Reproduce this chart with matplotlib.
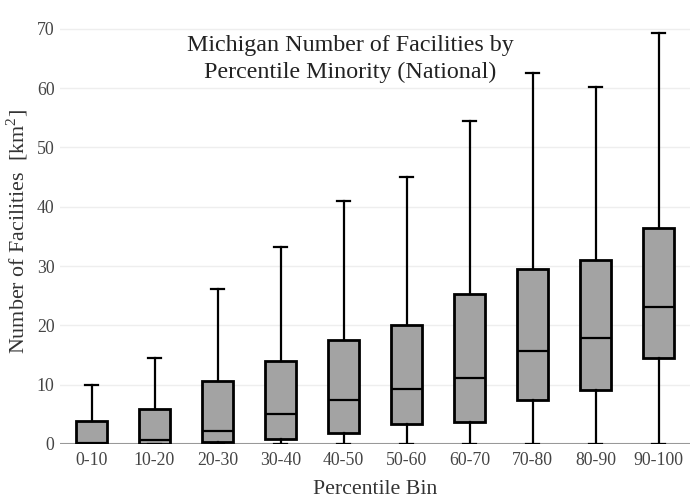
import matplotlib
matplotlib.use("Agg")
import matplotlib.pyplot as plt

plt.rcParams["font.family"] = ["Liberation Serif", "DejaVu Serif"]
plt.rcParams["mathtext.fontset"] = "custom"
plt.rcParams["mathtext.rm"] = "Liberation Serif"

# percentile bins and box statistics
bins = ["0-10", "10-20", "20-30", "30-40", "40-50",
        "50-60", "60-70", "70-80", "80-90", "90-100"]
lower_fence = [0, 0, 0, 0, 0, 0, 0, 0, 0, 0]
q1 = [0.05, 0.05, 0.3, 0.85, 1.85, 3.4, 3.7, 7.35, 9.05, 14.45]
median = [0.25, 0.6, 2.25, 5.05, 7.4, 9.2, 11.1, 15.7, 17.8, 23.1]
q3 = [3.95, 5.85, 10.6, 14.05, 17.5, 20.1, 25.3, 29.5, 31.0, 36.4]
upper_fence = [9.9, 14.55, 26.1, 33.2, 41.0, 45.0, 54.5, 62.6, 60.2, 69.3]

stats = []
for i, name in enumerate(bins):
    stats.append({
        "label": name,
        "whislo": lower_fence[i],
        "q1": q1[i],
        "med": median[i],
        "q3": q3[i],
        "whishi": upper_fence[i],
        "fliers": [],
    })

fig = plt.figure(figsize=(7, 5), dpi=100)
ax = fig.add_axes([60 / 700, 56 / 500, 630 / 700, 424 / 500])

lw = 1.6
ax.bxp(
    stats,
    positions=range(len(bins)),
    widths=0.48,
    patch_artist=True,
    showfliers=False,
    boxprops=dict(facecolor="#a3a3a3", edgecolor="black", linewidth=lw + 0.4),
    medianprops=dict(color="black", linewidth=lw),
    whiskerprops=dict(color="black", linewidth=lw),
    capprops=dict(color="black", linewidth=lw),
    capwidths=0.21,
    zorder=3,
)

ax.set_xlim(-0.5, len(bins) - 0.5)
ax.set_ylim(0, 71.5)
ax.set_yticks(range(0, 80, 10))
ax.yaxis.grid(True, color="#eeeeee", linewidth=1)
ax.set_axisbelow(True)
ax.axhline(0, color="#999999", linewidth=1.5, zorder=2)

for side in ["top", "right", "left", "bottom"]:
    ax.spines[side].set_visible(False)
ax.tick_params(axis="both", length=0, labelsize=12.8, colors="#444444")
ax.tick_params(axis="y", pad=4)
ax.tick_params(axis="x", pad=6)

ax.set_xlabel("Percentile Bin", fontsize=15.7, color="#333333", labelpad=8)
ax.set_ylabel(r"Number of Facilities  [km$^{\mathrm{2}}$]", fontsize=15.8,
              color="#333333", labelpad=5)

fig.text(0.5, 1 - 59 / 500, "Michigan Number of Facilities by\nPercentile Minority (National)",
         ha="center", va="center", fontsize=17.3, color="#222222", linespacing=1.35)

fig.savefig("out.png", dpi=100)
